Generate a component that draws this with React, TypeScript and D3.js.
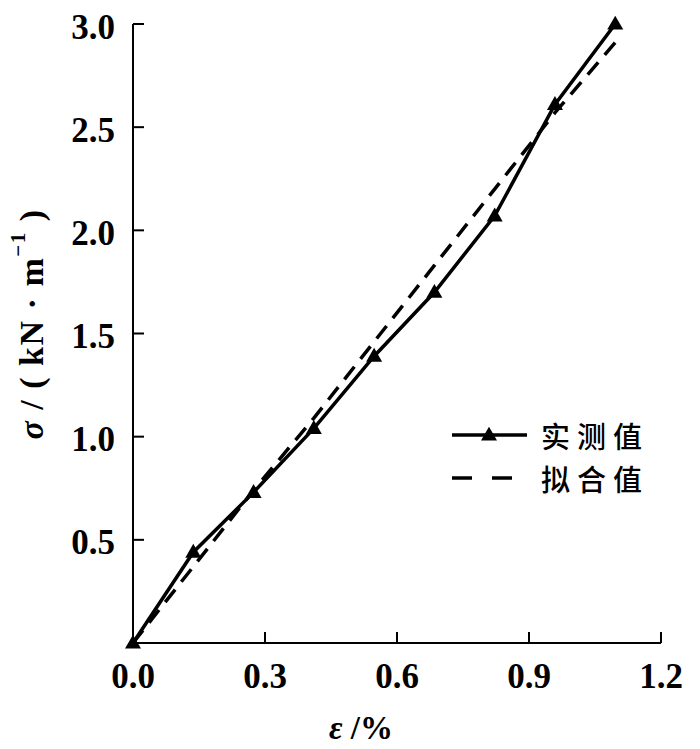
import React from "react";
import * as d3 from "d3";

const strainX = [0, 0.137, 0.274, 0.411, 0.548, 0.685, 0.822, 0.959, 1.096];
const measured = [0, 0.44, 0.73, 1.04, 1.39, 1.7, 2.07, 2.61, 3.0];
const fitted = [0, 0.37, 0.74, 1.09, 1.46, 1.83, 2.2, 2.57, 2.91];
const xTicks = [0, 0.3, 0.6, 0.9, 1.2];
const yTicks = [0.5, 1.0, 1.5, 2.0, 2.5, 3.0];
const legendLabels = ["实测值", "拟合值"];

const W = 700;
const H = 749;
const x = d3.scaleLinear().domain([0, 1.2]).range([133, 661]);
const y = d3.scaleLinear().domain([0, 3]).range([643, 24]);

const serif = "'Liberation Serif', 'Times New Roman', serif";
const cjk = "'Noto Sans CJK SC', sans-serif";

function Tri({ cx, cy, s = 16 }: { cx: number; cy: number; s?: number }) {
  const h = s * 0.87;
  return (
    <path
      d={`M${cx},${cy - h * 0.6} L${cx + s / 2},${cy + h * 0.4} L${cx - s / 2},${cy + h * 0.4} Z`}
      fill="#000"
    />
  );
}

export default function App() {
  const mPts: [number, number][] = strainX.map((v, i) => [v, measured[i]]);
  const fPts: [number, number][] = strainX.map((v, i) => [v, fitted[i]]);
  const line = d3
    .line<[number, number]>()
    .x((d) => x(d[0]))
    .y((d) => y(d[1]));
  const legY = [435, 478];

  return (
    <svg
      width={W}
      height={H}
      style={{ position: "absolute", left: 0, top: 0, background: "#fff" }}
    >
      <rect width={W} height={H} fill="#fff" />
      {/* axes */}
      <line x1={x(0)} y1={y(0)} x2={x(1.2)} y2={y(0)} stroke="#000" strokeWidth={2} />
      <line x1={x(0)} y1={y(0)} x2={x(0)} y2={y(3)} stroke="#000" strokeWidth={2} />
      {xTicks.slice(1).map((t) => (
        <line key={"xt" + t} x1={x(t)} x2={x(t)} y1={y(0)} y2={y(0) - 11} stroke="#000" strokeWidth={2} />
      ))}
      {yTicks.map((t) => (
        <line key={"yt" + t} x1={x(0)} x2={x(0) + 11} y1={y(t)} y2={y(t)} stroke="#000" strokeWidth={2} />
      ))}
      {xTicks.map((t) => (
        <text
          key={"xl" + t}
          x={x(t)}
          y={676}
          textAnchor="middle"
          dominantBaseline="central"
          fontFamily={serif}
          fontWeight="bold"
          fontSize={35}
        >
          {t.toFixed(1)}
        </text>
      ))}
      {yTicks.map((t) => (
        <text
          key={"yl" + t}
          x={115}
          y={y(t) + 3}
          textAnchor="end"
          dominantBaseline="central"
          fontFamily={serif}
          fontWeight="bold"
          fontSize={35}
        >
          {t.toFixed(1)}
        </text>
      ))}
      {/* axis titles */}
      <text
        x={361}
        y={728}
        textAnchor="middle"
        dominantBaseline="central"
        fontFamily={serif}
        fontWeight="bold"
        fontSize={33}
      >
        <tspan fontStyle="italic">ε</tspan>
        <tspan> /%</tspan>
      </text>
      <text
        transform={`translate(31,324) rotate(-90)`}
        textAnchor="middle"
        dominantBaseline="central"
        fontFamily={serif}
        fontWeight="bold"
        fontSize={34}
        letterSpacing={1.5}
      >
        <tspan fontStyle="italic">σ</tspan>
        <tspan> / ( kN · m</tspan>
        <tspan fontSize={21} dy={-13}>−1</tspan>
        <tspan dy={13}> )</tspan>
      </text>
      {/* series */}
      <path
        d={line(fPts) || ""}
        fill="none"
        stroke="#000"
        strokeWidth={3.5}
        strokeDasharray="16 10"
      />
      <path d={line(mPts) || ""} fill="none" stroke="#000" strokeWidth={3.5} />
      {mPts.map((d, i) => (
        <Tri key={"m" + i} cx={x(d[0])} cy={y(d[1])} />
      ))}
      {/* legend */}
      <line x1={452} x2={527} y1={legY[0]} y2={legY[0]} stroke="#000" strokeWidth={3.5} />
      <Tri cx={489} cy={legY[0]} />
      <line x1={452} x2={527} y1={legY[1]} y2={legY[1]} stroke="#000" strokeWidth={3.5} strokeDasharray="20 20" />
      {legendLabels.map((l, i) => (
        <text
          key={l}
          x={541}
          y={legY[i]}
          dominantBaseline="central"
          fontFamily={cjk}
          fontWeight={500}
          fontSize={29}
          letterSpacing={7}
        >
          {l}
        </text>
      ))}
    </svg>
  );
}
